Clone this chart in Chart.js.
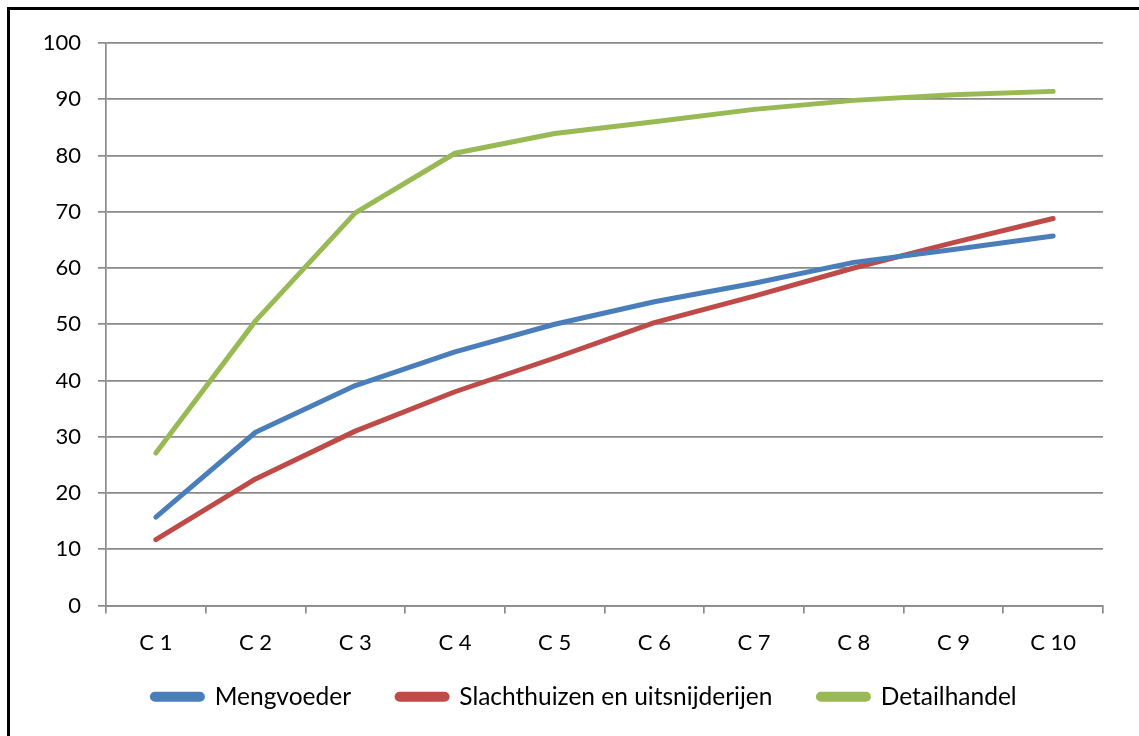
<!DOCTYPE html>
<html>
<head>
<meta charset="utf-8">
<script src="https://cdn.jsdelivr.net/npm/chart.js@4"></script>
<style>
  html, body { margin: 0; padding: 0; background: #fff; }
  #wrap { position: relative; width: 1139px; height: 736px; overflow: hidden; }
  #frame {
    position: absolute; left: 7px; top: 7px;
    width: 1200px; height: 800px;
    border: 3px solid #000;
  }
  canvas { position: absolute; left: 0; top: 0; }
</style>
</head>
<body>
<div id="wrap">
  <div id="frame"></div>
  <canvas id="chart" width="1139" height="736"></canvas>
</div>
<script>
// ======================
// DATA
// ======================
const categories = ["C 1", "C 2", "C 3", "C 4", "C 5", "C 6", "C 7", "C 8", "C 9", "C 10"];

const mengvoeder = [15.7, 30.8, 39.1, 45.1, 50.0, 54.0, 57.3, 61.0, 63.3, 65.7];
const slachthuizen = [11.7, 22.5, 31.0, 38.0, 44.0, 50.3, 55.0, 60.0, 64.5, 68.8];
const detailhandel = [27.1, 50.6, 69.8, 80.4, 83.9, 86.0, 88.2, 89.8, 90.8, 91.4];

const yTicks = [0, 10, 20, 30, 40, 50, 60, 70, 80, 90, 100];

const GRID = "#8a8a8a";
const TICK_FONT = { family: "Lato", size: 22 };
const LEGEND_FONT = { family: "Lato", size: 24.5 };

function series(label, data, color) {
  return {
    label: label,
    data: data,
    borderColor: color,
    backgroundColor: color,
    borderWidth: 5,
    borderCapStyle: "round",
    borderJoinStyle: "round",
    tension: 0,
    pointRadius: 0,
    pointHoverRadius: 0
  };
}

// nudge the legend box after layout (wide item spacing would otherwise push it too low)
const legendShift = {
  id: "legendShift",
  afterLayout(chart) {
    const lg = chart.legend;
    lg.top -= 17;
    lg.bottom -= 17;
    lg.left += 33;
    lg.right += 33;
  }
};

new Chart(document.getElementById("chart"), {
  type: "line",
  data: {
    labels: categories,
    datasets: [
      series("Mengvoeder", mengvoeder, "#4a7ebb"),
      series("Slachthuizen en uitsnijderijen", slachthuizen, "#be4b48"),
      series("Detailhandel", detailhandel, "#98b954")
    ]
  },
  plugins: [legendShift],
  options: {
    responsive: false,
    animation: false,
    events: [],
    layout: {
      padding: { left: 0, right: 36, top: 43, bottom: 0 }
    },
    plugins: {
      tooltip: { enabled: false },
      legend: {
        position: "bottom",
        labels: {
          color: "#000",
          font: LEGEND_FONT,
          boxWidth: 50,
          boxHeight: 5,
          padding: 46,
          useBorderRadius: true,
          borderRadius: 2.5
        }
      }
    },
    scales: {
      x: {
        offset: true,
        afterFit: s => { s.height = 50; },
        grid: {
          offset: true,
          drawOnChartArea: false,
          drawTicks: true,
          tickLength: 8,
          color: GRID,
          lineWidth: 1.7
        },
        border: { display: true, color: GRID, width: 1.7 },
        ticks: { color: "#000", font: TICK_FONT, padding: 16, maxRotation: 0 }
      },
      y: {
        min: 0,
        max: 100,
        afterFit: s => { s.width = 106; },
        afterBuildTicks: s => { s.ticks = yTicks.map(v => ({ value: v })); },
        grid: {
          color: GRID,
          lineWidth: 1.7,
          tickLength: 8
        },
        border: { display: true, color: GRID, width: 1.7 },
        ticks: { color: "#000", font: TICK_FONT, padding: 17 }
      }
    }
  }
});
</script>
</body>
</html>
